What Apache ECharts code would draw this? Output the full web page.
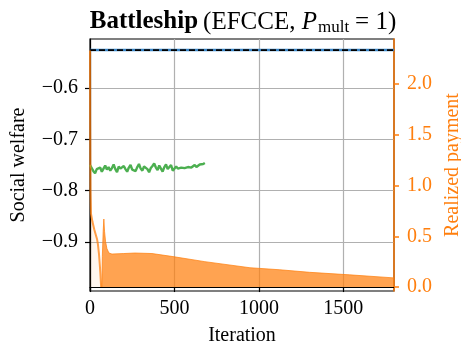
<!DOCTYPE html>
<html>
<head>
<meta charset="utf-8">
<script src="https://cdn.jsdelivr.net/npm/echarts@6/dist/echarts.min.js"></script>
<style>
html,body{margin:0;padding:0;background:#fff;}
#chart{width:461px;height:352px;}
</style>
</head>
<body>
<div id="chart"></div>
<script>
// ---- data ----
const xTicks = [0, 500, 1000, 1500];
const leftTicks = [-0.9, -0.8, -0.7, -0.6];
const rightTicks = [0, 0.5, 1.0, 1.5, 2.0];

// blue solid + black dashed (social welfare, flat)
const blueIter = [0, 1800];
const blueVals = [-0.526, -0.526];
const blackIter = [0, 1800];
const blackVals = [-0.526, -0.526];

// green social welfare, sampled every 10 iterations from 0
const greenStart = 0;
const greenStep = 10;
const greenVals = [-0.750,-0.752,-0.762,-0.766,-0.758,-0.760,-0.755,-0.763,-0.757,-0.751,
  -0.759,-0.754,-0.761,-0.756,-0.749,-0.758,-0.764,-0.753,-0.757,-0.760,
  -0.752,-0.758,-0.763,-0.755,-0.750,-0.759,-0.756,-0.762,-0.754,-0.748,
  -0.757,-0.761,-0.753,-0.750,-0.758,-0.764,-0.756,-0.752,-0.747,-0.755,
  -0.760,-0.751,-0.757,-0.763,-0.754,-0.749,-0.758,-0.756,-0.750,-0.761,
  -0.759,-0.753,-0.757,-0.760,-0.755,-0.752,-0.756,-0.758,-0.754,-0.751,
  -0.755,-0.753,-0.750,-0.754,-0.752,-0.749,-0.751,-0.748,-0.746];

// realized payment: early (light fill) part
const payEarlyIter = [0, 1, 3, 6, 15, 25, 35, 42, 47, 53, 58, 62, 66];
const payEarlyVals = [2.33, 1.6, 0.95, 0.72, 0.64, 0.57, 0.51, 0.47, 0.42, 0.33, 0.22, 0.12, 0.0];
// realized payment: main (dense) envelope
const payMainIter = [70, 73, 78, 82, 86, 92, 100, 112, 130, 200, 266, 367, 491, 680, 947, 1124, 1300, 1538, 1800];
const payMainVals = [0, 0.30, 0.55, 0.67, 0.55, 0.45, 0.38, 0.335, 0.325, 0.33, 0.335, 0.33, 0.30, 0.25, 0.19, 0.17, 0.145, 0.12, 0.09];

const pairs = (xs, ys) => xs.map((x, i) => [x, ys[i]]);
const greenData = greenVals.map((v, i) => [greenStart + i * greenStep, v]);

const FONT = '"Liberation Serif", "DejaVu Serif", serif';
const ORANGE = '#ff7f0e';
const minus = v => String(v).replace('-', '\u2212');

const chart = echarts.init(document.getElementById('chart'), null, {renderer: 'canvas'});
chart.setOption({
  animation: false,
  backgroundColor: '#fff',
  title: {
    left: 238, top: 3, textAlign: 'center',
    text: '{b|Battleship} {r|(EFCCE, }{i|P}{s|mult}{r|= 1)}',
    textStyle: {
      fontWeight: 'normal',
      rich: {
        b: {fontFamily: FONT, fontSize: 25, fontWeight: 'bold', color: '#000', lineHeight: 28, verticalAlign: 'middle'},
        r: {fontFamily: FONT, fontSize: 25, fontWeight: 'normal', color: '#000', lineHeight: 28, verticalAlign: 'middle'},
        i: {fontFamily: FONT, fontSize: 25, fontWeight: 'normal', fontStyle: 'italic', color: '#000', lineHeight: 28, verticalAlign: 'middle'},
        s: {fontFamily: FONT, fontSize: 17, fontWeight: 'normal', color: '#000', lineHeight: 17, padding: [12, 6, 0, 1], verticalAlign: 'middle'}
      }
    }
  },
  grid: {left: 90, right: 67, top: 39, bottom: 61, outerBoundsMode: 'none', containLabel: false,
         show: true, borderColor: '#000', borderWidth: 1.2, backgroundColor: 'transparent'},
  xAxis: {
    type: 'value', min: 0, max: 1800, interval: 500,
    name: 'Iteration', nameLocation: 'middle', nameGap: 35,
    nameTextStyle: {fontFamily: FONT, fontSize: 20, color: '#000'},
    axisLine: {lineStyle: {color: '#000', width: 1.2}},
    axisTick: {show: true, length: 5, inside: false, customValues: xTicks, lineStyle: {color: '#000', width: 1.2}},
    axisLabel: {customValues: xTicks, margin: 8, fontFamily: FONT, fontSize: 20, color: '#000', formatter: v => String(v)},
    splitLine: {show: true, lineStyle: {color: '#b0b0b0', width: 1.2}}
  },
  yAxis: [{
    type: 'value', min: -0.9955, max: -0.5045, position: 'left',
    name: 'Social welfare', nameLocation: 'middle', nameGap: 61, nameRotate: 90,
    nameTextStyle: {fontFamily: FONT, fontSize: 20, color: '#000'},
    axisLine: {show: true, lineStyle: {color: '#000', width: 1.2}},
    axisTick: {show: true, length: 5, customValues: leftTicks, lineStyle: {color: '#000', width: 1.2}},
    axisLabel: {customValues: leftTicks, margin: 12, fontFamily: FONT, fontSize: 20, color: '#000', formatter: v => minus(v)},
    splitLine: {show: true, lineStyle: {color: '#b0b0b0', width: 1.2}}
  }, {
    type: 'value', min: -0.039, max: 2.443, position: 'right',
    name: 'Realized payment', nameLocation: 'middle', nameGap: 49, nameRotate: 90,
    nameTextStyle: {fontFamily: FONT, fontSize: 20, color: ORANGE},
    axisLine: {show: true, lineStyle: {color: ORANGE, width: 1.5}},
    axisTick: {show: true, length: 5, customValues: rightTicks, lineStyle: {color: ORANGE, width: 1.5}},
    axisLabel: {customValues: rightTicks, margin: 13, fontFamily: FONT, fontSize: 20, color: ORANGE, formatter: v => v.toFixed(1)},
    splitLine: {show: false}
  }],
  series: [
    {type: 'line', yAxisIndex: 0, data: pairs(blueIter, blueVals), showSymbol: false, symbol: 'none',
     lineStyle: {color: '#3a86c8', width: 2.5}, z: 3},
    {type: 'line', yAxisIndex: 0, data: pairs(blackIter, blackVals), showSymbol: false, symbol: 'none',
     lineStyle: {color: '#000', width: 1.8, type: [6, 3]}, z: 4},
    {type: 'line', yAxisIndex: 0, data: greenData, showSymbol: false, symbol: 'none',
     lineStyle: {color: '#4caf50', width: 2.4}, z: 3},
    {type: 'line', yAxisIndex: 1, data: pairs(payEarlyIter, payEarlyVals), showSymbol: false, symbol: 'none',
     lineStyle: {color: 'rgba(255,127,14,0.75)', width: 2},
     areaStyle: {color: 'rgba(255,127,14,0.1)', origin: 0}, z: 5},
    {type: 'line', yAxisIndex: 1, data: pairs(payMainIter, payMainVals), showSymbol: false, symbol: 'none',
     lineStyle: {color: 'rgba(255,127,14,0.72)', width: 1},
     areaStyle: {color: 'rgba(255,127,14,0.72)', origin: 0, opacity: 1}, z: 5}
  ]
});
</script>
</body>
</html>
